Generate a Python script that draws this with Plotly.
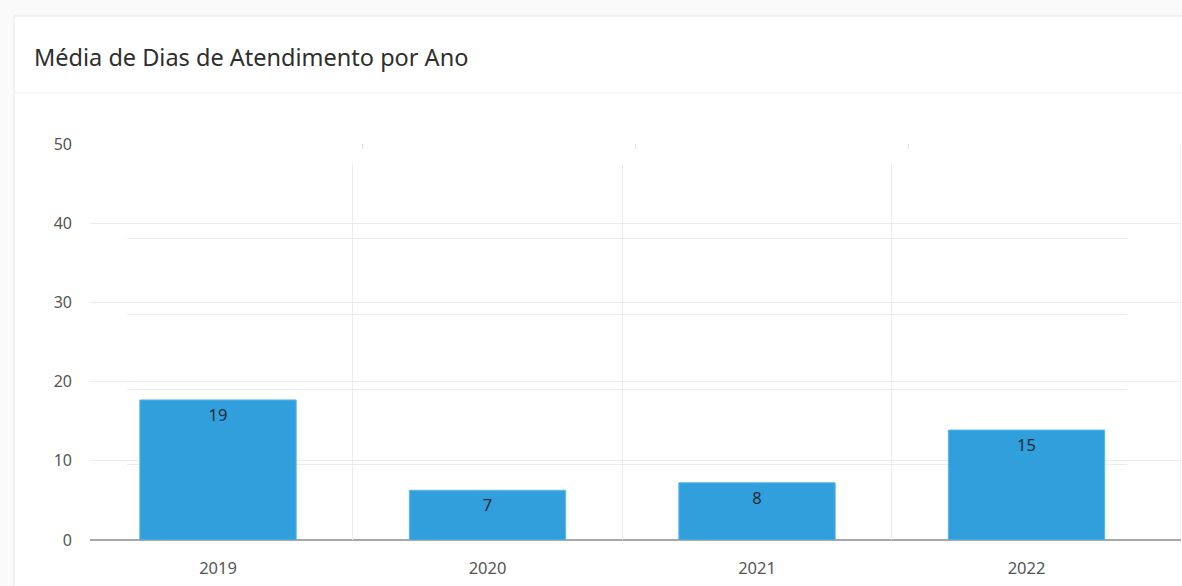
import plotly.graph_objects as go

anos = ["2019", "2020", "2021", "2022"]
media_dias = [18.6, 6.6, 7.6, 14.6]
y_ticks = [0, 10, 20, 30, 40, 50]
titulo = "Média de Dias de Atendimento por Ano"

W, H = 1182, 586
FONT = "Noto Sans, Open Sans, sans-serif"
GRID = "#e8ebef"


def fx(px):
    return px / W


def fy(px):
    return 1 - px / H


# frame of the outer (label) axes and of the inner (data) axes, in pixels
OUT_L, OUT_R, OUT_T, OUT_B = 90, 1181, 144, 540
IN_L, IN_R, IN_T, IN_B = 127, 1127, 163.5, 540
BAND = 269.5
FIRST_CENTER = 218

fig = go.Figure()
fig.add_bar(
    x=anos,
    y=media_dias,
    xaxis="x2",
    yaxis="y2",
    width=0.58,
    marker=dict(color="#309fdc", line=dict(color="#5ab6ea", width=1)),
    texttemplate="%{y:.0f}",
    textposition="inside",
    insidetextanchor="end",
    textfont=dict(color="#1e2a36", size=16.5, family=FONT),
    hoverinfo="skip",
)

out_unit = (OUT_R - OUT_L) / 4
y_unit = (OUT_B - OUT_T) / 50
in_start = -(FIRST_CENTER - IN_L) / BAND

fig.update_layout(
    width=W,
    height=H,
    autosize=False,
    margin=dict(l=0, r=0, t=0, b=0, pad=0, autoexpand=False),
    paper_bgcolor="#fafafa",
    plot_bgcolor="rgba(0,0,0,0)",
    showlegend=False,
    font=dict(family=FONT, color="#555555", size=16),
    xaxis=dict(
        domain=[fx(OUT_L), fx(OUT_R)],
        range=[-0.5, 3.5],
        side="top",
        anchor="y",
        showgrid=False,
        zeroline=False,
        showline=False,
        showticklabels=False,
        tickmode="array",
        tickvals=[0.5, 1.5, 2.5],
        ticks="inside",
        ticklen=5,
        tickcolor="#dfe3e8",
        automargin=False,
    ),
    yaxis=dict(
        domain=[fy(OUT_B), fy(OUT_T)],
        range=[0, 50],
        anchor="x",
        tickmode="array",
        tickvals=y_ticks,
        ticks="",
        showgrid=True,
        gridcolor=GRID,
        zeroline=True,
        zerolinecolor="#a8a8a8",
        showline=False,
        ticklabelstandoff=17,
        tickfont=dict(size=16, color="#555555"),
        automargin=False,
    ),
    xaxis2=dict(
        domain=[fx(IN_L), fx(IN_R)],
        range=[in_start, in_start + (IN_R - IN_L) / BAND],
        anchor="y2",
        type="category",
        tickson="boundaries",
        ticks="",
        showgrid=True,
        gridcolor=GRID,
        showline=True,
        linecolor="#a8a8a8",
        linewidth=1,
        ticklabelstandoff=13,
        tickfont=dict(size=16.5, color="#555555"),
        automargin=False,
    ),
    yaxis2=dict(
        domain=[fy(IN_B), fy(IN_T)],
        range=[0, 50],
        anchor="x2",
        tickmode="array",
        tickvals=y_ticks,
        showgrid=True,
        gridcolor=GRID,
        zeroline=False,
        showticklabels=False,
        ticks="",
        automargin=False,
    ),
    shapes=[
        # card
        dict(type="rect", xref="paper", yref="paper", x0=fx(14), x1=1.01, y0=-0.01, y1=fy(16),
             fillcolor="white", line=dict(color="#e6e6e6", width=1), layer="below"),
        dict(type="line", xref="paper", yref="paper", x0=fx(14), x1=1, y0=fy(93), y1=fy(93),
             line=dict(color="#ececec", width=1), layer="below"),
        # white panel hiding the outer grid behind the data axes
        dict(type="rect", xref="x", yref="y",
             x0=-0.5 + (IN_L - OUT_L) / out_unit, x1=-0.5 + (IN_R - OUT_L) / out_unit,
             y0=0.1, y1=(OUT_B - IN_T) / y_unit,
             fillcolor="white", line=dict(width=0), layer="below"),
        # right edge of the outer frame
        dict(type="line", xref="x", yref="y", x0=3.5, x1=3.5, y0=0, y1=50,
             line=dict(color="#e3e6ea", width=1), layer="below"),
    ],
    annotations=[
        dict(text=titulo, xref="paper", yref="paper", x=fx(32), y=fy(57), xanchor="left",
             yanchor="middle", showarrow=False, font=dict(size=23.5, color="#2e2e2e", family=FONT)),
    ],
)

fig.write_html(
    "out.html",
    config={"responsive": False, "displayModeBar": False},
    post_script="document.body.style.margin='0';document.body.style.overflow='hidden';",
)
